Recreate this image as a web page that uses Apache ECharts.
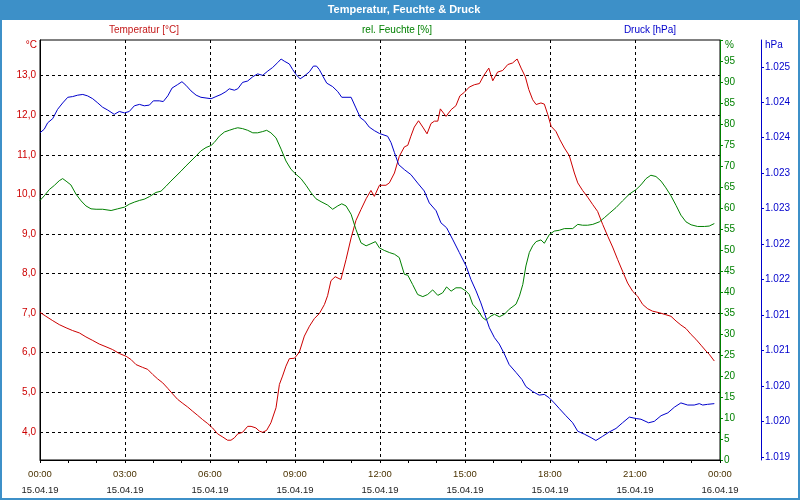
<!DOCTYPE html>
<html><head><meta charset="utf-8">
<script src="https://cdn.jsdelivr.net/npm/echarts@6/dist/echarts.min.js"></script>
<style>html,body{margin:0;padding:0;background:#fff}#c{width:800px;height:500px}</style>
</head><body><div id="c"></div>
<script>
// ---- data (hours since 15.04.19 00:00) ----
const tempHours = [0.00,0.21,0.45,0.68,0.92,1.15,1.39,1.62,1.86,2.09,2.33,2.56,2.80,3.04,3.21,3.39,3.62,3.80,3.98,4.15,4.33,4.51,4.68,4.86,5.04,5.21,5.39,5.56,5.74,5.92,6.09,6.27,6.45,6.62,6.74,6.86,6.98,7.15,7.33,7.45,7.62,7.74,7.86,8.00,8.15,8.33,8.45,8.56,8.68,8.80,8.98,9.15,9.33,9.51,9.68,9.86,10.04,10.15,10.27,10.42,10.62,10.80,10.98,11.15,11.33,11.51,11.68,11.80,11.98,12.21,12.33,12.51,12.68,12.86,12.98,13.09,13.21,13.36,13.51,13.66,13.80,13.92,14.04,14.13,14.33,14.51,14.68,14.82,14.98,15.15,15.33,15.51,15.66,15.84,15.98,16.15,16.33,16.51,16.68,16.84,16.98,17.13,17.25,17.39,17.51,17.68,17.80,17.92,18.04,18.21,18.35,18.51,18.68,18.86,18.98,19.15,19.33,19.51,19.68,19.86,20.04,20.21,20.39,20.56,20.74,20.92,21.09,21.27,21.45,21.62,21.86,22.09,22.27,22.45,22.62,22.80,22.98,23.15,23.33,23.51,23.62,23.80];
const tempC = [7.02,6.92,6.81,6.71,6.63,6.56,6.50,6.40,6.31,6.22,6.15,6.08,5.98,5.91,5.83,5.70,5.63,5.58,5.45,5.34,5.24,5.10,4.96,4.82,4.72,4.63,4.52,4.42,4.31,4.21,4.10,3.95,3.87,3.79,3.79,3.85,3.95,3.99,4.14,4.14,4.10,4.02,3.99,4.04,4.23,4.61,5.20,5.41,5.66,5.85,5.86,6.01,6.42,6.67,6.86,6.99,7.22,7.44,7.82,7.92,7.85,8.35,8.90,9.34,9.62,9.89,10.10,9.95,10.23,10.23,10.29,10.54,10.96,11.20,11.24,11.47,11.70,11.86,11.70,11.53,11.79,11.85,11.85,12.16,11.97,12.14,12.24,12.49,12.58,12.71,12.77,12.80,13.00,13.19,12.87,13.09,13.13,13.28,13.32,13.42,13.19,12.97,12.65,12.39,12.27,12.31,12.28,12.02,11.72,11.59,11.38,11.17,10.98,10.54,10.29,10.10,9.93,9.74,9.57,9.24,8.94,8.67,8.35,8.06,7.76,7.55,7.43,7.22,7.11,7.05,7.01,6.96,6.92,6.80,6.70,6.61,6.46,6.34,6.19,6.04,5.96,5.79];

const humHours = [0.00,0.15,0.33,0.51,0.68,0.80,0.92,1.09,1.27,1.45,1.62,1.80,1.98,2.21,2.51,2.74,2.98,3.15,3.33,3.51,3.68,3.86,4.09,4.27,4.45,4.62,4.80,4.98,5.15,5.33,5.51,5.68,5.86,6.04,6.15,6.33,6.51,6.68,6.86,6.98,7.15,7.33,7.51,7.68,7.86,8.00,8.15,8.33,8.51,8.68,8.86,9.04,9.21,9.39,9.56,9.74,9.92,10.15,10.33,10.51,10.65,10.80,10.98,11.15,11.33,11.51,11.68,11.84,11.98,12.15,12.33,12.51,12.68,12.86,12.98,13.15,13.33,13.51,13.68,13.86,14.04,14.21,14.35,14.51,14.68,14.86,15.04,15.15,15.27,15.45,15.62,15.74,15.92,16.04,16.21,16.39,16.56,16.80,16.92,17.04,17.15,17.27,17.39,17.51,17.68,17.80,17.98,18.15,18.33,18.51,18.80,18.98,19.15,19.33,19.51,19.74,19.92,20.09,20.33,20.56,20.80,21.04,21.21,21.39,21.56,21.74,21.92,22.09,22.27,22.45,22.62,22.80,22.98,23.21,23.45,23.62,23.80];
const humPct = [61.8,62.9,64.4,65.4,66.5,67.0,66.4,65.5,63.3,61.7,60.5,59.8,59.7,59.7,59.4,59.8,60.2,60.9,61.4,61.8,62.1,62.7,63.7,64.0,65.2,66.4,67.6,68.8,70.0,71.2,72.4,73.6,74.4,74.9,75.6,77.1,78.1,78.5,78.9,79.1,78.9,78.5,77.9,77.9,78.2,78.5,77.9,76.7,74.0,71.2,69.2,68.0,67.0,65.4,63.7,62.2,61.5,60.7,59.7,60.5,61.0,60.5,58.5,54.9,51.7,51.0,51.5,52.0,50.5,49.9,49.4,49.0,48.2,44.2,44.0,41.8,39.4,38.9,39.4,40.5,39.2,39.8,41.2,40.2,41.0,41.0,40.2,39.4,37.1,35.7,33.9,33.3,34.3,34.7,34.1,34.7,35.9,37.1,39.0,41.8,46.2,49.4,51.0,52.0,52.4,51.6,53.7,54.5,54.7,55.1,55.1,56.1,55.9,55.9,56.1,56.7,57.7,58.7,60.1,61.7,63.3,64.4,65.5,67.0,67.8,67.5,66.4,64.8,62.9,60.6,58.3,56.7,56.0,55.6,55.6,55.7,56.3];

const pressHours = [0.00,0.15,0.27,0.45,0.62,0.80,0.98,1.15,1.33,1.51,1.68,1.86,2.04,2.21,2.39,2.62,2.80,2.98,3.15,3.33,3.51,3.68,3.86,4.00,4.21,4.35,4.51,4.66,4.86,5.01,5.15,5.33,5.51,5.68,5.86,6.04,6.21,6.39,6.56,6.68,6.86,6.98,7.15,7.33,7.51,7.68,7.86,8.04,8.21,8.39,8.51,8.62,8.80,8.92,9.04,9.18,9.33,9.51,9.65,9.76,9.86,9.98,10.12,10.33,10.51,10.65,10.98,11.15,11.31,11.45,11.62,11.80,11.98,12.27,12.39,12.51,12.66,12.86,13.09,13.33,13.56,13.74,13.98,14.15,14.35,14.56,14.80,15.04,15.21,15.39,15.56,15.68,15.86,16.04,16.21,16.39,16.56,16.80,17.01,17.15,17.39,17.62,17.80,17.98,18.15,18.33,18.56,18.80,18.98,19.21,19.45,19.62,19.86,20.09,20.33,20.56,20.80,21.04,21.21,21.48,21.68,21.92,22.16,22.39,22.62,22.86,23.09,23.27,23.39,23.56,23.80];
const pressHpa = [1024.07,1024.12,1024.21,1024.27,1024.40,1024.49,1024.57,1024.58,1024.60,1024.61,1024.59,1024.55,1024.49,1024.43,1024.39,1024.33,1024.37,1024.35,1024.37,1024.45,1024.47,1024.45,1024.46,1024.52,1024.52,1024.51,1024.59,1024.70,1024.75,1024.79,1024.74,1024.66,1024.60,1024.57,1024.56,1024.55,1024.58,1024.61,1024.65,1024.69,1024.67,1024.69,1024.78,1024.80,1024.86,1024.90,1024.88,1024.94,1024.99,1025.06,1025.11,1025.08,1025.04,1024.96,1024.89,1024.83,1024.87,1024.93,1025.01,1025.01,1024.96,1024.87,1024.77,1024.72,1024.65,1024.57,1024.57,1024.42,1024.28,1024.24,1024.15,1024.10,1024.06,1024.02,1023.93,1023.79,1023.62,1023.55,1023.48,1023.36,1023.25,1023.08,1022.97,1022.80,1022.73,1022.57,1022.38,1022.19,1022.00,1021.84,1021.67,1021.53,1021.32,1021.18,1021.09,1020.95,1020.80,1020.69,1020.59,1020.49,1020.42,1020.37,1020.38,1020.33,1020.26,1020.18,1020.08,1019.98,1019.86,1019.82,1019.77,1019.73,1019.79,1019.85,1019.90,1019.98,1020.06,1020.04,1020.03,1019.98,1020.00,1020.08,1020.12,1020.20,1020.26,1020.23,1020.23,1020.25,1020.23,1020.24,1020.25];

const tempTicks = [4,5,6,7,8,9,10,11,12,13];
const humTicks = [0,5,10,15,20,25,30,35,40,45,50,55,60,65,70,75,80,85,90,95,100];
const pressTicks = [1019.5,1020,1020.5,1021,1021.5,1022,1022.5,1023,1023.5,1024,1024.5,1025];
const dayLabels = ['15.04.19','16.04.19'];

const titleText = 'Temperatur, Feuchte & Druck';
const legendTexts = ['Temperatur [°C]','rel. Feuchte [%]','Druck [hPa]'];

// ---- chart ----
const FONT = "'Liberation Sans', Arial, sans-serif";
const RED = '#cc0000', GREEN = '#008000', BLUE = '#0000cc', FRAME = '#3d90c8';
const pairs = (xs, ys) => xs.map((x, i) => [x, ys[i]]);

const chart = echarts.init(document.getElementById('c'), null, {renderer: 'canvas'});
chart.setOption({
  animation: false,
  backgroundColor: '#ffffff',
  grid: {left: 40, top: 40, width: 680, height: 420, show: true, borderColor: '#000', borderWidth: 1, backgroundColor: '#fff'},
  graphic: [
    {type: 'rect', shape: {x: 0, y: 0, width: 800, height: 20}, style: {fill: FRAME}, silent: true},
    {type: 'rect', shape: {x: 1, y: 1, width: 798, height: 498}, style: {fill: null, stroke: FRAME, lineWidth: 2}, silent: true},
    {type: 'text', style: {text: titleText, x: 404, y: 10, align: 'center', verticalAlign: 'middle', fill: '#fff', font: "bold 11px " + FONT}},
    {type: 'text', style: {text: legendTexts[0], x: 144, y: 30, align: 'center', verticalAlign: 'middle', fill: '#c41a1a', font: "10px " + FONT}},
    {type: 'text', style: {text: legendTexts[1], x: 397, y: 30, align: 'center', verticalAlign: 'middle', fill: GREEN, font: "10px " + FONT}},
    {type: 'text', style: {text: legendTexts[2], x: 650, y: 30, align: 'center', verticalAlign: 'middle', fill: BLUE, font: "10px " + FONT}},
    {type: 'text', style: {text: '°C', x: 37, y: 45, align: 'right', verticalAlign: 'middle', fill: RED, font: "10px " + FONT}},
    {type: 'text', style: {text: '%', x: 725, y: 45, align: 'left', verticalAlign: 'middle', fill: GREEN, font: "10px " + FONT}},
    {type: 'text', style: {text: 'hPa', x: 765, y: 45, align: 'left', verticalAlign: 'middle', fill: BLUE, font: "10px " + FONT}}
  ],
  xAxis: {
    type: 'value', min: 0, max: 24, interval: 3,
    axisLine: {lineStyle: {color: '#000', width: 1}},
    axisTick: {show: true, length: 3, lineStyle: {color: '#000'}},
    minorTick: {show: true, splitNumber: 3, length: 3, lineStyle: {color: '#000'}},
    splitLine: {show: true, lineStyle: {color: '#000', type: [3, 3], width: 1}},
    axisLabel: {
      margin: 7, fontFamily: FONT, fontSize: 9.5, lineHeight: 15.5,
      rich: {t: {color: '#4a3200', fontFamily: FONT, fontSize: 9.5, lineHeight: 15.5},
             d: {color: '#222222', fontFamily: FONT, fontSize: 9.5, lineHeight: 15.5}},
      formatter: v => {
        const hh = String(v % 24).padStart(2, '0') + ':00';
        return '{t|' + hh + '}\n{d|' + (v >= 24 ? dayLabels[1] : dayLabels[0]) + '}';
      }
    }
  },
  yAxis: [
    {
      type: 'value', position: 'left', min: 3.29, max: 13.9,
      axisLine: {show: true, lineStyle: {color: '#000'}},
      axisTick: {show: false, customValues: tempTicks},
      splitLine: {show: true, lineStyle: {color: '#000', type: [3, 3], width: 1}},
      axisLabel: {customValues: tempTicks, margin: 4, color: RED, fontFamily: FONT, fontSize: 10,
        formatter: v => v.toFixed(1).replace('.', ',')}
    },
    {
      type: 'value', position: 'right', min: 0, max: 100, interval: 5,
      axisLine: {show: true, lineStyle: {color: GREEN}},
      axisTick: {show: true, length: 3, customValues: humTicks, lineStyle: {color: GREEN}},
      splitLine: {show: false},
      axisLabel: {customValues: humTicks.slice(0, -1), margin: 4, color: GREEN, fontFamily: FONT, fontSize: 10}
    },
    {
      type: 'value', position: 'right', offset: 41, min: 1019.455, max: 1025.378,
      axisLine: {show: true, lineStyle: {color: BLUE}},
      axisTick: {show: true, length: 3, customValues: pressTicks, lineStyle: {color: BLUE}},
      splitLine: {show: false},
      axisLabel: {customValues: pressTicks, margin: 4, color: BLUE, fontFamily: FONT, fontSize: 10,
        formatter: v => { const n = String(Math.floor(v + 1e-9)); return n.slice(0, 1) + '.' + n.slice(1); }}
    }
  ],
  series: [
    {name: legendTexts[0], type: 'line', yAxisIndex: 0, data: pairs(tempHours, tempC), showSymbol: false, lineStyle: {color: RED, width: 1}, itemStyle: {color: RED}},
    {name: legendTexts[1], type: 'line', yAxisIndex: 1, data: pairs(humHours, humPct), showSymbol: false, lineStyle: {color: GREEN, width: 1}, itemStyle: {color: GREEN}},
    {name: legendTexts[2], type: 'line', yAxisIndex: 2, data: pairs(pressHours, pressHpa), showSymbol: false, lineStyle: {color: BLUE, width: 1}, itemStyle: {color: BLUE}}
  ]
});
</script></body></html>
